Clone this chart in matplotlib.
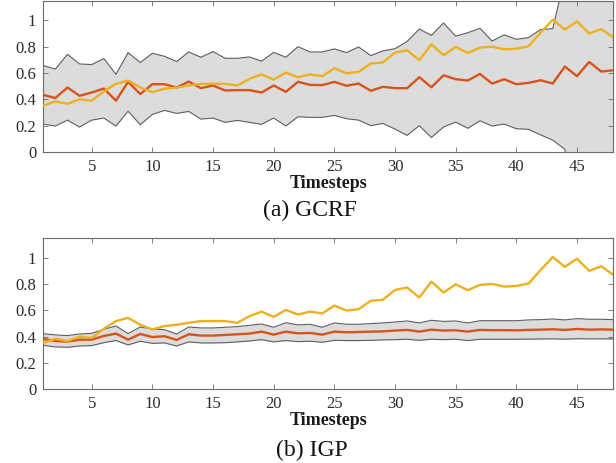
import numpy as np
import matplotlib

matplotlib.use("Agg")
import matplotlib.pyplot as plt

plt.rcParams["font.family"] = ["Liberation Serif", "DejaVu Serif"]

# --- values ---
timesteps = list(range(1, 49))

truth = [0.351, 0.384, 0.366, 0.400, 0.390, 0.460, 0.518, 0.543, 0.490, 0.455,
         0.480, 0.490, 0.505, 0.518, 0.518, 0.518, 0.505, 0.555, 0.590, 0.550,
         0.603, 0.568, 0.590, 0.576, 0.636, 0.598, 0.609, 0.672, 0.680, 0.755,
         0.773, 0.697, 0.818, 0.735, 0.798, 0.753, 0.793, 0.800, 0.780, 0.785,
         0.803, 0.906, 1.005, 0.930, 0.992, 0.900, 0.934, 0.869]

gcrf_mean = [0.434, 0.410, 0.490, 0.427, 0.452, 0.482, 0.390, 0.533, 0.440, 0.515,
             0.515, 0.490, 0.535, 0.485, 0.505, 0.467, 0.470, 0.470, 0.452, 0.505,
             0.457, 0.533, 0.510, 0.508, 0.533, 0.503, 0.520, 0.465, 0.495, 0.485,
             0.485, 0.568, 0.492, 0.583, 0.553, 0.543, 0.593, 0.520, 0.553, 0.515,
             0.525, 0.545, 0.520, 0.649, 0.576, 0.684, 0.611, 0.621]
gcrf_upper = [0.657, 0.630, 0.742, 0.669, 0.664, 0.710, 0.590, 0.755, 0.680, 0.750,
              0.727, 0.687, 0.760, 0.720, 0.763, 0.712, 0.712, 0.722, 0.690, 0.757,
              0.720, 0.800, 0.760, 0.760, 0.783, 0.755, 0.798, 0.732, 0.768, 0.785,
              0.840, 0.934, 0.886, 0.980, 0.880, 0.906, 0.940, 0.843, 0.890, 0.856,
              0.869, 0.930, 0.937, 1.330, 1.900, 2.200, 2.400, 2.600]
gcrf_lower = [0.212, 0.197, 0.242, 0.189, 0.242, 0.258, 0.197, 0.310, 0.207, 0.285,
              0.316, 0.293, 0.308, 0.250, 0.258, 0.225, 0.240, 0.225, 0.210, 0.258,
              0.197, 0.268, 0.263, 0.263, 0.278, 0.253, 0.242, 0.200, 0.217, 0.174,
              0.126, 0.200, 0.110, 0.190, 0.227, 0.180, 0.237, 0.197, 0.212, 0.177,
              0.172, 0.130, 0.090, 0.020, -0.900, -1.200, -1.400, -1.600]

igp_mean = [0.382, 0.367, 0.362, 0.377, 0.377, 0.405, 0.423, 0.377, 0.420, 0.397,
            0.403, 0.375, 0.418, 0.408, 0.408, 0.413, 0.418, 0.423, 0.438, 0.415,
            0.438, 0.425, 0.428, 0.415, 0.438, 0.433, 0.435, 0.438, 0.440, 0.446,
            0.451, 0.438, 0.453, 0.446, 0.448, 0.438, 0.451, 0.449, 0.449, 0.448,
            0.451, 0.453, 0.456, 0.451, 0.458, 0.453, 0.455, 0.453]
igp_upper = [0.423, 0.413, 0.408, 0.420, 0.425, 0.456, 0.481, 0.423, 0.473, 0.458,
             0.453, 0.420, 0.473, 0.466, 0.466, 0.471, 0.476, 0.486, 0.496, 0.471,
             0.506, 0.489, 0.494, 0.471, 0.504, 0.494, 0.494, 0.499, 0.504, 0.511,
             0.519, 0.504, 0.524, 0.516, 0.519, 0.504, 0.521, 0.521, 0.521, 0.521,
             0.527, 0.529, 0.534, 0.527, 0.537, 0.532, 0.532, 0.529]
igp_lower = [0.334, 0.322, 0.319, 0.329, 0.332, 0.354, 0.370, 0.337, 0.365, 0.349,
             0.352, 0.329, 0.360, 0.352, 0.352, 0.354, 0.360, 0.367, 0.377, 0.360,
             0.370, 0.362, 0.365, 0.357, 0.372, 0.370, 0.370, 0.372, 0.375, 0.377,
             0.380, 0.372, 0.380, 0.377, 0.380, 0.370, 0.380, 0.380, 0.380, 0.380,
             0.381, 0.382, 0.383, 0.381, 0.384, 0.383, 0.383, 0.382]

x_ticks = [5, 10, 15, 20, 25, 30, 35, 40, 45]
y_ticks = [0, 0.2, 0.4, 0.6, 0.8, 1]
y_ticklabels = ["0", "0.2", "0.4", "0.6", "0.8", "1"]

ORANGE = "#D95319"
YELLOW = "#EDB120"
BAND = "#DCDCDC"
EDGE = "#5E5E5E"
AXIS = "#6B6B6B"

fig = plt.figure(figsize=(6.16, 4.63), dpi=100)
ax_top = fig.add_axes([0.0701, 0.6717, 0.9257, 0.3270])
ax_bot = fig.add_axes([0.0701, 0.1592, 0.9257, 0.3270])


def draw_panel(ax, lower, upper, mean):
    ax.fill_between(timesteps, lower, upper, color=BAND, lw=0, zorder=1)
    ax.plot(timesteps, upper, color=EDGE, lw=0.8, zorder=2)
    ax.plot(timesteps, lower, color=EDGE, lw=0.8, zorder=2)
    ax.plot(timesteps, mean, color=ORANGE, lw=1.7, zorder=3)
    ax.plot(timesteps, truth, color=YELLOW, lw=1.7, zorder=4)
    ax.set_xlim(1, 48)
    ax.set_ylim(0, 1.15)
    ax.set_xticks(x_ticks)
    ax.set_yticks(y_ticks)
    ax.set_yticklabels(y_ticklabels)
    ax.tick_params(direction="in", length=3.5, width=0.6, color=AXIS,
                   top=True, right=True, labelsize=12, labelcolor="#2b2b2b", pad=5)
    for s in ax.spines.values():
        s.set_color(AXIS)
        s.set_linewidth(0.8)
    ax.set_xlabel("Timesteps", fontsize=13, fontweight="bold",
                  color="#1a1a1a", labelpad=0)


draw_panel(ax_top, gcrf_lower, gcrf_upper, gcrf_mean)
draw_panel(ax_bot, igp_lower, igp_upper, igp_mean)

fig.text(0.503, 0.5464, "(a) GCRF", ha="center", va="center", fontsize=17, color="#111111")
fig.text(0.507, 0.028, "(b) IGP", ha="center", va="center", fontsize=17, color="#111111")

fig.savefig("out.png", dpi=100)
